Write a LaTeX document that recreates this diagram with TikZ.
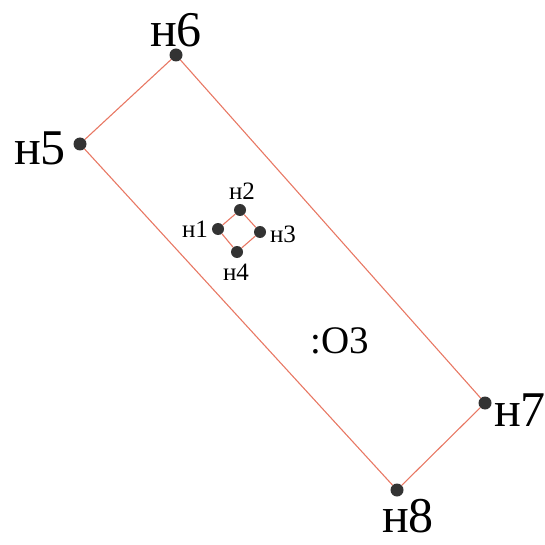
\documentclass[tikz,border=0pt]{standalone}
\usepackage{fontspec}
\setmainfont{Liberation Serif}
\begin{document}
\begin{tikzpicture}[x=1pt,y=1pt,
  dot/.style={circle,fill=black!80,inner sep=0pt,minimum size=13pt},
  sdot/.style={circle,fill=black!80,inner sep=0pt,minimum size=12pt},
  edge/.style={draw={rgb,255:red,232;green,120;blue,100},line width=1.1pt},
  big/.style={inner sep=0pt,font=\fontsize{50}{50}\selectfont},
  small/.style={inner sep=0pt,font=\fontsize{25}{25}\selectfont},
  mid/.style={inner sep=0pt,font=\fontsize{39}{39}\selectfont}]
\useasboundingbox (0,0) rectangle (545,544);
\node[dot] (h5) at (80,400) {};
\node[dot] (h6) at (176,489) {};
\node[dot] (h7) at (485,141) {};
\node[dot] (h8) at (397,54) {};
\node[sdot] (h1) at (218,315) {};
\node[sdot] (h2) at (240,334) {};
\node[sdot] (h3) at (260,312) {};
\node[sdot] (h4) at (237,292) {};
\draw[edge] (h5) -- (h6) -- (h7) -- (h8) -- (h5);
\draw[edge] (h1) -- (h2) -- (h3) -- (h4) -- (h1);
\node[big] (l5) at (40,396) {н5};
\node[big] (l6) at (176,514) {н6};
\node[big,anchor=west] (l7) at (494,134) {н7};
\node[big] (l8) at (408,28) {н8};
\node[small] (l1) at (195,315) {н1};
\node[small] (l2) at (242,353) {н2};
\node[small] (l3) at (283,310) {н3};
\node[small] (l4) at (236,272) {н4};
\node[mid] (o3) at (340,203) {:O3};
\end{tikzpicture}
\end{document}
